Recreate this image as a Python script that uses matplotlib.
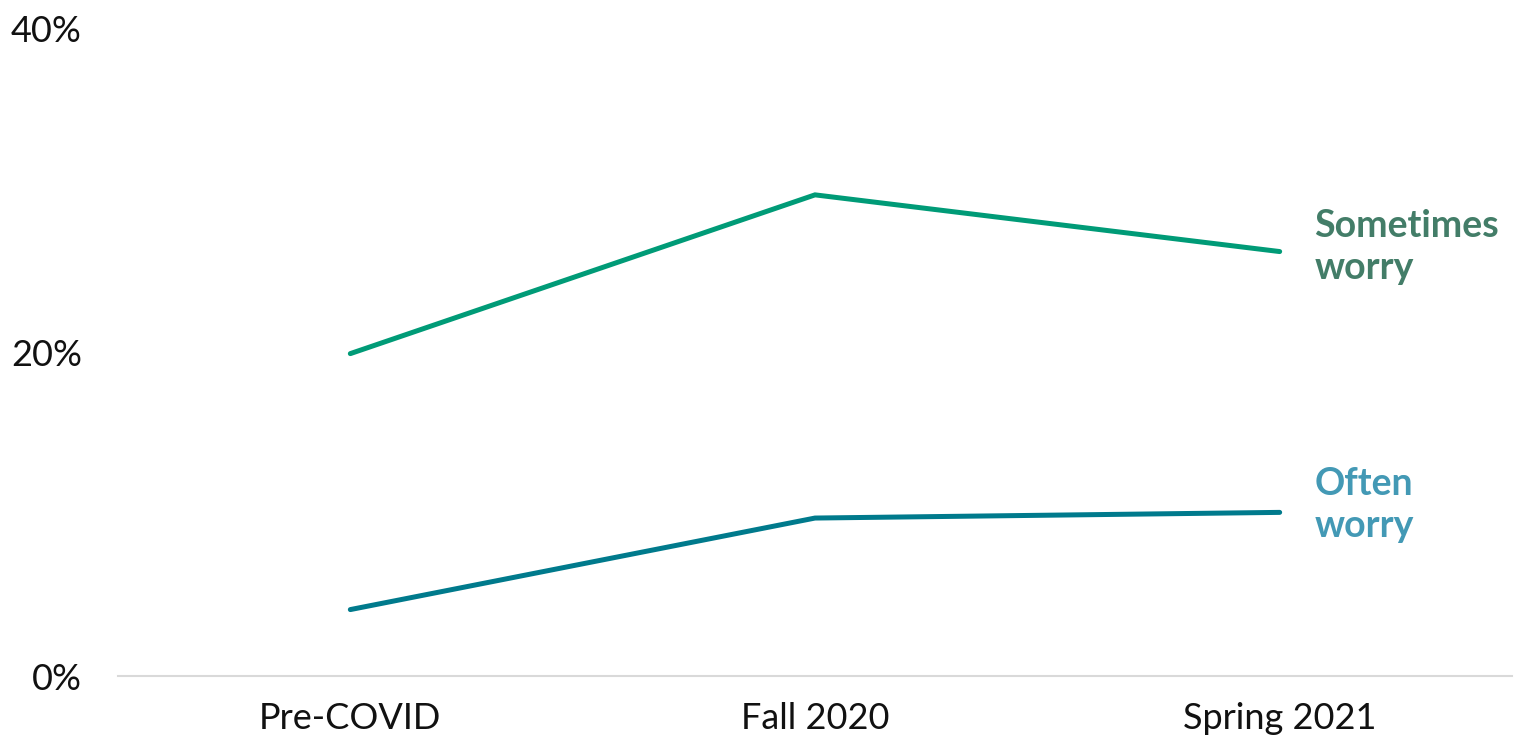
import matplotlib
matplotlib.use("Agg")
import matplotlib.pyplot as plt

periods = ["Pre-COVID", "Fall 2020", "Spring 2021"]
sometimes = [19.9, 29.7, 26.2]
often = [4.1, 9.75, 10.1]
yticks = [0, 20, 40]
ytick_labels = ["0%", "20%", "40%"]

plt.rcParams['font.family'] = ['Lato', 'DejaVu Sans']

fig = plt.figure(figsize=(15.26, 7.44), dpi=100)
W, H = 1526, 744
left, right, bottom, top = 118, 1512, 676, 28
ax = fig.add_axes([left / W, 1 - bottom / H, (right - left) / W, (bottom - top) / H])

x = list(range(len(periods)))
ax.plot(x, sometimes, color="#009B77", lw=3.6, solid_capstyle="round", solid_joinstyle="miter")
ax.plot(x, often, color="#007A8C", lw=3.6, solid_capstyle="round", solid_joinstyle="miter")

ax.set_xlim(-0.5, 2.5)
ax.set_ylim(0, 40)
ax.set_xticks(x)
ax.set_xticklabels(periods, fontsize=26, color="#111111")
ax.set_yticks(yticks)
ax.set_yticklabels(ytick_labels, fontsize=26, color="#111111")
ax.tick_params(axis="both", length=0)
ax.tick_params(axis="y", pad=26)
ax.tick_params(axis="x", pad=19)

for s in ["top", "right", "left"]:
    ax.spines[s].set_visible(False)
ax.spines["bottom"].set_color("#D9D9D9")
ax.spines["bottom"].set_linewidth(1.5)

ax.text(2.075, 26.5, "Sometimes\nworry", color="#437D68", fontsize=27, fontweight="bold",
        va="center", ha="left", linespacing=1.3, clip_on=False)
ax.text(2.075, 10.55, "Often\nworry", color="#4399B5", fontsize=27, fontweight="bold",
        va="center", ha="left", linespacing=1.3, clip_on=False)

fig.savefig("out.png", dpi=100)
